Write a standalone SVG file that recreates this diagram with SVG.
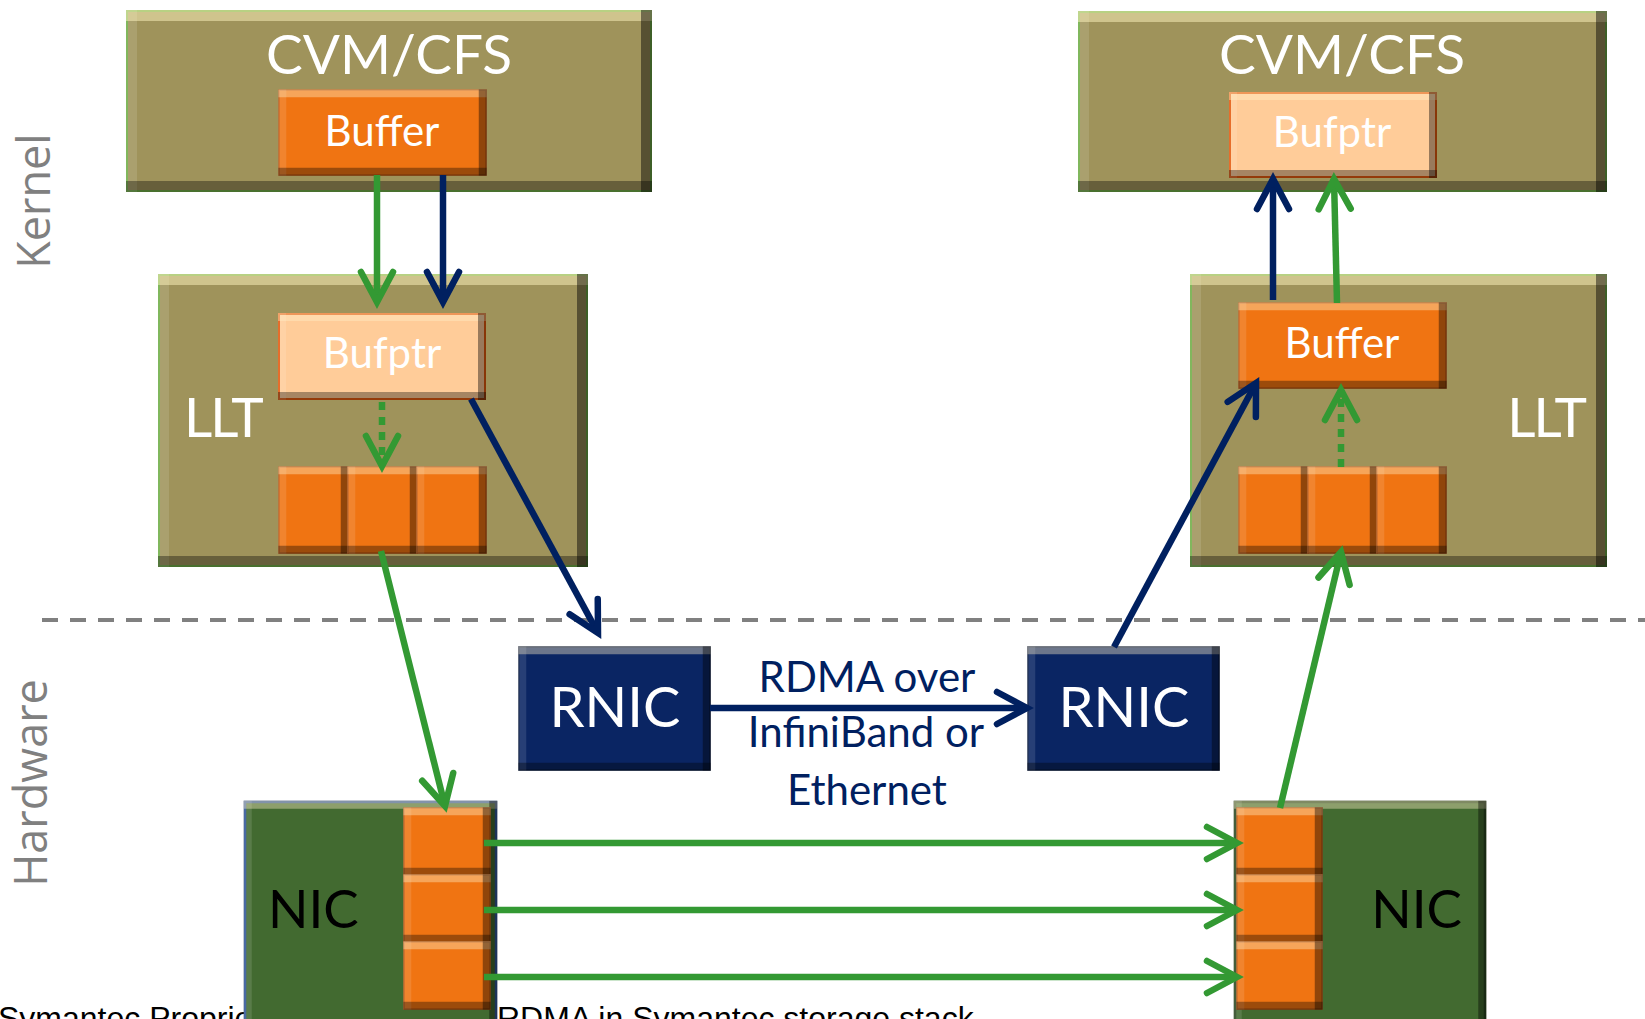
<svg xmlns="http://www.w3.org/2000/svg" width="1645" height="1019" viewBox="0 0 1645 1019">
<defs>
<style>
.olive{fill:#9F935B;stroke:#70AD47;stroke-width:2;filter:url(#bvL)}
.org{fill:#F07412;stroke:#C55A11;stroke-width:1.5;filter:url(#bvS)}
.ptr{fill:#FFCC99;stroke:#E35A0E;stroke-width:2;filter:url(#bvS)}
.navy{fill:#0A2563;stroke:#061A45;stroke-width:1.5;filter:url(#bvS)}
.nicL{fill:#426A30;stroke:#2F5597;stroke-width:2.5;filter:url(#bvS)}
.nicR{fill:#426A30;stroke:#2B4720;stroke-width:2.5;filter:url(#bvS)}
.t{font-family:Lato,"Open Sans","Liberation Sans",sans-serif;fill:#fff}
.big{font-size:55px}
.llt{font-size:55px;letter-spacing:-2px}
.mid{font-size:42px}
.side{font-family:"Open Sans","Liberation Sans",sans-serif;font-size:45px;fill:#808080}
.rd{font-family:Lato,"Open Sans","Liberation Sans",sans-serif;font-size:42px;fill:#002060;text-anchor:middle}
.foot{font-family:"Liberation Sans",Arial,sans-serif;font-size:32px;fill:#000}
.g{stroke:#339933;stroke-width:6.5;fill:none;marker-end:url(#mg)}
.n{stroke:#002060;stroke-width:6.5;fill:none;marker-end:url(#mn)}
.dot{stroke-dasharray:8 7}
</style>
<marker id="mg" markerUnits="userSpaceOnUse" markerWidth="44" markerHeight="44" viewBox="-36 -22 44 44" refX="0" refY="0" orient="auto" overflow="visible">
<path d="M-30,-16 L0,0 L-30,16" fill="none" stroke="#339933" stroke-width="6.5" stroke-linecap="round" stroke-linejoin="miter"/>
</marker>
<marker id="mn" markerUnits="userSpaceOnUse" markerWidth="44" markerHeight="44" viewBox="-36 -22 44 44" refX="0" refY="0" orient="auto" overflow="visible">
<path d="M-30,-16 L0,0 L-30,16" fill="none" stroke="#002060" stroke-width="6.5" stroke-linecap="round" stroke-linejoin="miter"/>
</marker>
<filter id="bvL" x="-5%" y="-5%" width="110%" height="110%" color-interpolation-filters="sRGB">
<feOffset in="SourceAlpha" dy="11" result="a"/>
<feComposite in="SourceAlpha" in2="a" operator="out" result="top"/>
<feFlood flood-color="#FFF5C0" flood-opacity="0.5"/>
<feComposite in2="top" operator="in" result="T"/>
<feOffset in="SourceAlpha" dy="-11" result="b"/>
<feComposite in="SourceAlpha" in2="b" operator="out" result="bot"/>
<feFlood flood-color="#000" flood-opacity="0.35"/>
<feComposite in2="bot" operator="in" result="B"/>
<feOffset in="SourceAlpha" dx="-11" result="c"/>
<feComposite in="SourceAlpha" in2="c" operator="out" result="rt"/>
<feFlood flood-color="#000" flood-opacity="0.45"/>
<feComposite in2="rt" operator="in" result="R"/>
<feOffset in="SourceAlpha" dx="11" result="d"/>
<feComposite in="SourceAlpha" in2="d" operator="out" result="lf"/>
<feFlood flood-color="#fff" flood-opacity="0.12"/>
<feComposite in2="lf" operator="in" result="L"/>
<feMerge><feMergeNode in="SourceGraphic"/><feMergeNode in="L"/><feMergeNode in="T"/><feMergeNode in="R"/><feMergeNode in="B"/></feMerge>
</filter>
<filter id="bvS" x="-5%" y="-5%" width="110%" height="110%" color-interpolation-filters="sRGB">
<feOffset in="SourceAlpha" dy="8" result="a"/>
<feComposite in="SourceAlpha" in2="a" operator="out" result="top"/>
<feFlood flood-color="#FFF0C8" flood-opacity="0.4"/>
<feComposite in2="top" operator="in" result="T"/>
<feOffset in="SourceAlpha" dy="-8" result="b"/>
<feComposite in="SourceAlpha" in2="b" operator="out" result="bot"/>
<feFlood flood-color="#000" flood-opacity="0.35"/>
<feComposite in2="bot" operator="in" result="B"/>
<feOffset in="SourceAlpha" dx="-8" result="c"/>
<feComposite in="SourceAlpha" in2="c" operator="out" result="rt"/>
<feFlood flood-color="#000" flood-opacity="0.4"/>
<feComposite in2="rt" operator="in" result="R"/>
<feOffset in="SourceAlpha" dx="8" result="d"/>
<feComposite in="SourceAlpha" in2="d" operator="out" result="lf"/>
<feFlood flood-color="#fff" flood-opacity="0.12"/>
<feComposite in2="lf" operator="in" result="L"/>
<feMerge><feMergeNode in="SourceGraphic"/><feMergeNode in="L"/><feMergeNode in="T"/><feMergeNode in="R"/><feMergeNode in="B"/></feMerge>
</filter>
</defs>
<rect width="1645" height="1019" fill="#fff"/>

<text class="side" transform="translate(50,201) rotate(-90)" text-anchor="middle">Kernel</text>
<text class="side" transform="translate(47,783) rotate(-90)" text-anchor="middle">Hardware</text>
<text class="foot" x="-2" y="1029">Symantec Proprietary</text>
<text class="foot" x="497" y="1029">RDMA in Symantec storage stack</text>
<line x1="42" y1="620" x2="1645" y2="620" stroke="#808080" stroke-width="4" stroke-dasharray="16 12"/>

<g id="cvm-left">
<rect class="olive" x="127" y="11" width="524" height="180"/>
<text class="t big" x="389" y="74" text-anchor="middle">CVM/CFS</text>
</g>
<g id="buffer-left">
<rect class="org" x="279" y="90" width="207" height="85"/>
<text class="t mid" x="382" y="146" text-anchor="middle">Buffer</text>
</g>
<g id="llt-left">
<rect class="olive" x="159" y="275" width="428" height="291"/>
<text class="t llt" x="184" y="437">LLT</text>
</g>
<g id="bufptr-left">
<rect class="ptr" x="279" y="314" width="206" height="85"/>
<text class="t mid" x="382" y="368" text-anchor="middle">Bufptr</text>
</g>
<g id="cells-left">
<rect class="org" x="279" y="467" width="69" height="86"/>
<rect class="org" x="348" y="467" width="69" height="86"/>
<rect class="org" x="417" y="467" width="69" height="86"/>
</g>

<g id="cvm-right">
<rect class="olive" x="1079" y="12" width="527" height="179"/>
<text class="t big" x="1342" y="74" text-anchor="middle">CVM/CFS</text>
</g>
<g id="bufptr-right">
<rect class="ptr" x="1230" y="93" width="206" height="84"/>
<text class="t mid" x="1332" y="147" text-anchor="middle">Bufptr</text>
</g>
<g id="llt-right">
<rect class="olive" x="1191" y="275" width="415" height="291"/>
<text class="t llt" x="1585" y="437" text-anchor="end">LLT</text>
</g>
<g id="buffer-right">
<rect class="org" x="1239" y="303" width="207" height="85"/>
<text class="t mid" x="1342" y="358" text-anchor="middle">Buffer</text>
</g>
<g id="cells-right">
<rect class="org" x="1239" y="467" width="69" height="86"/>
<rect class="org" x="1308" y="467" width="69" height="86"/>
<rect class="org" x="1377" y="467" width="69" height="86"/>
</g>

<g id="rnic-left">
<rect class="navy" x="519" y="647" width="191" height="123"/>
<text class="t" x="615" y="727" font-size="56" text-anchor="middle">RNIC</text>
</g>
<g id="rnic-right">
<rect class="navy" x="1028" y="647" width="191" height="123"/>
<text class="t" x="1124" y="727" font-size="56" text-anchor="middle">RNIC</text>
</g>

<g id="nic-left">
<rect class="nicL" x="245" y="802" width="251" height="232"/>
<rect class="org" x="404" y="808" width="86" height="67"/>
<rect class="org" x="404" y="875" width="86" height="67"/>
<rect class="org" x="404" y="942" width="86" height="67"/>
<text class="t" x="268" y="928" font-size="53" style="fill:#000">NIC</text>
</g>
<g id="nic-right">
<rect class="nicR" x="1235" y="802" width="250" height="232"/>
<rect class="org" x="1237" y="808" width="85" height="67"/>
<rect class="org" x="1237" y="875" width="85" height="67"/>
<rect class="org" x="1237" y="942" width="85" height="67"/>
<text class="t" x="1462" y="928" font-size="53" text-anchor="end" style="fill:#000">NIC</text>
</g>

<g id="connectors">
<line class="g" x1="377" y1="175" x2="377" y2="302"/>
<line class="n" x1="443" y1="175" x2="443" y2="302"/>
<line class="g dot" x1="382" y1="402" x2="382" y2="466"/>
<line class="n" x1="471" y1="399" x2="598" y2="633"/>
<line class="g" x1="381" y1="551" x2="445" y2="806"/>
<line class="n" x1="710" y1="708" x2="1027" y2="708"/>
<line class="n" x1="1114" y1="647" x2="1256" y2="383"/>
<line class="g dot" x1="1341" y1="467" x2="1341" y2="390"/>
<line class="g" x1="1280" y1="808" x2="1341" y2="552"/>
<line class="n" x1="1273" y1="300" x2="1273" y2="179"/>
<line class="g" x1="1337" y1="303" x2="1334" y2="179"/>
<line class="g" x1="484" y1="843" x2="1237" y2="843"/>
<line class="g" x1="484" y1="910" x2="1237" y2="910"/>
<line class="g" x1="484" y1="977" x2="1237" y2="977"/>
</g>
<g id="label-rdma">
<text class="rd" x="867" y="692">RDMA over</text>
<text class="rd" x="866" y="747">InfiniBand or</text>
<text class="rd" x="867" y="805">Ethernet</text>
</g>
</svg>
